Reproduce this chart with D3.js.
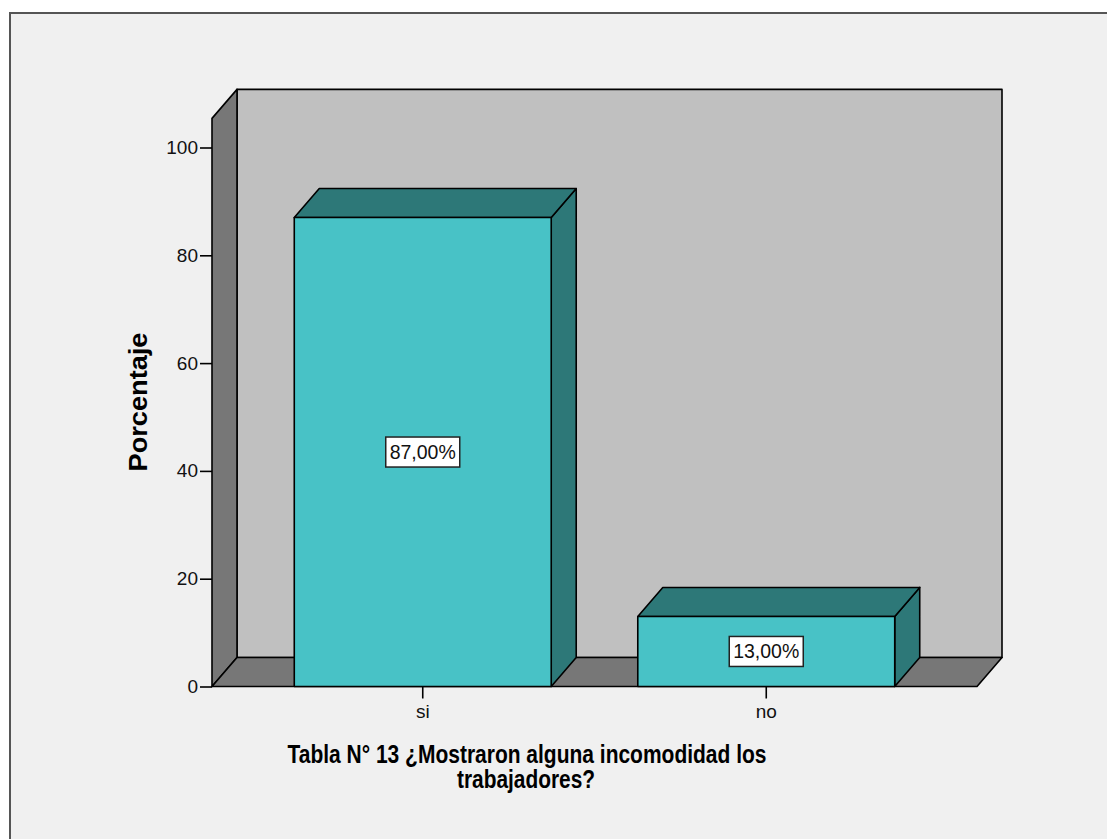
<!DOCTYPE html>
<html>
<head>
<meta charset="utf-8">
<script src="https://cdn.jsdelivr.net/npm/d3@7"></script>
<style>
  html, body { margin: 0; padding: 0; background: #ffffff; }
  svg { display: block; }
  text { font-family: "Liberation Sans", Arial, sans-serif; }
</style>
</head>
<body>
<script>
// Categories and percentages
const categories = ["si", "no"];
const percentages = [87, 13];
const valueLabels = ["87,00%", "13,00%"];
const yTicks = [0, 20, 40, 60, 80, 100];
const axisTitle = "Porcentaje";
const titleLines = ["Tabla N° 13 ¿Mostraron alguna incomodidad los", "trabajadores?"];

const W = 1107, H = 839;
const svg = d3.select("body").append("svg").attr("width", W).attr("height", H);

// Frame
svg.append("rect").attr("x", 0).attr("y", 0).attr("width", W).attr("height", H).attr("fill", "#ffffff");
svg.append("rect").attr("x", 10).attr("y", 13).attr("width", W + 20).attr("height", H + 20)
  .attr("fill", "#f0f0f0").attr("stroke", "#555555").attr("stroke-width", 2);

// Scales
const x0 = 212, x1 = 977;
const x = d3.scaleBand().domain(categories).range([x0, x1]).paddingInner(0.252).paddingOuter(0.2395);
const y = d3.scaleLinear().domain([0, 100]).range([686.5, 147.5]);
const yTop = 105.4;      // top of the walls
const dx = 25, dy = -29; // depth offset of the 3D box

const edge = { stroke: "#000", "stroke-width": 1.6, "stroke-linejoin": "round" };
function poly(pts, fill) {
  const p = svg.append("polygon").attr("points", pts.map(d => d.join(",")).join(" ")).attr("fill", fill);
  Object.entries(edge).forEach(([k, v]) => p.attr(k, v));
  return p;
}

// Walls and floor
const yb = y(0), yt = y(yTop);
poly([[x0 + dx, yt + dy], [x1 + dx, yt + dy], [x1 + dx, yb + dy], [x0 + dx, yb + dy]], "#c0c0c0");
poly([[x0, yb], [x0, yt], [x0 + dx, yt + dy], [x0 + dx, yb + dy]], "#777777");
poly([[x0, yb], [x1, yb], [x1 + dx, yb + dy], [x0 + dx, yb + dy]], "#777777");

// Y axis ticks
const yAxis = d3.axisLeft(y).tickValues(yTicks).tickSize(12).tickPadding(2).tickFormat(d3.format("d"));
const gy = svg.append("g").attr("transform", `translate(${x0},0)`).call(yAxis);
gy.select(".domain").remove();
gy.selectAll(".tick line").attr("stroke", "#000").attr("stroke-width", 1.6);
gy.selectAll(".tick text").attr("font-size", 19).attr("fill", "#111");

// X axis ticks
const xAxis = d3.axisBottom(x).tickSize(12).tickPadding(6);
const gx = svg.append("g").attr("transform", `translate(0,${yb})`).call(xAxis);
gx.select(".domain").remove();
gx.selectAll(".tick line").attr("stroke", "#000").attr("stroke-width", 1.6);
gx.selectAll(".tick text").attr("font-size", 19).attr("fill", "#111");

// 3D bars
categories.forEach((c, i) => {
  const bx = x(c), bw = x.bandwidth(), top = y(percentages[i]);
  poly([[bx + bw, yb], [bx + bw, top], [bx + bw + dx, top + dy], [bx + bw + dx, yb + dy]], "#2d7878");
  poly([[bx, top], [bx + bw, top], [bx + bw + dx, top + dy], [bx + dx, top + dy]], "#2d7878");
  poly([[bx, yb], [bx, top], [bx + bw, top], [bx + bw, yb]], "#48c2c6");

  // Value label box in the middle of the front face
  const cx = bx + bw / 2, cy = y(percentages[i] / 2);
  svg.append("rect").attr("x", cx - 37).attr("y", cy - 15).attr("width", 74).attr("height", 30)
    .attr("fill", "#ffffff").attr("stroke", "#222").attr("stroke-width", 1.5);
  svg.append("text").attr("x", cx).attr("y", cy).attr("dy", "0.36em").attr("text-anchor", "middle")
    .attr("font-size", 19.5).attr("fill", "#111").text(valueLabels[i]);
});

// Axis title
svg.append("text").attr("transform", "translate(147,402) rotate(-90)").attr("text-anchor", "middle")
  .attr("font-size", 25).attr("font-weight", "bold").attr("fill", "#000")
  .attr("textLength", 139).attr("lengthAdjust", "spacingAndGlyphs").text(axisTitle);

// Category axis title (two lines)
svg.append("text").attr("x", 527).attr("y", 763).attr("text-anchor", "middle")
  .attr("font-size", 25).attr("font-weight", "bold").attr("fill", "#000")
  .attr("textLength", 479).attr("lengthAdjust", "spacingAndGlyphs").text(titleLines[0]);
svg.append("text").attr("x", 526).attr("y", 788).attr("text-anchor", "middle")
  .attr("font-size", 25).attr("font-weight", "bold").attr("fill", "#000")
  .attr("textLength", 138).attr("lengthAdjust", "spacingAndGlyphs").text(titleLines[1]);
</script>
</body>
</html>
